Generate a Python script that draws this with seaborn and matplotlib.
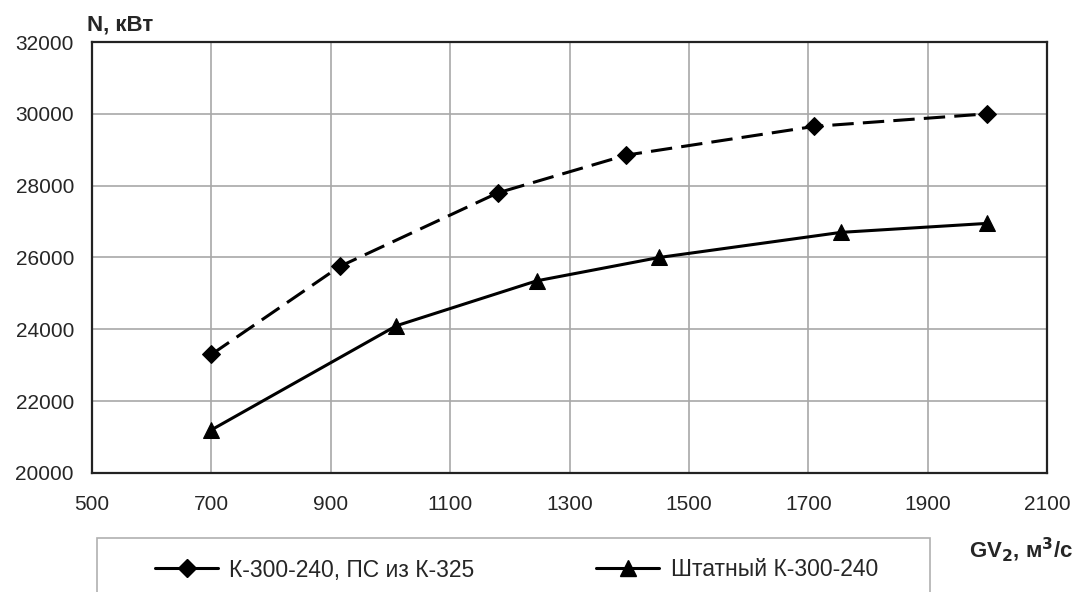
import numpy as np
import pandas as pd
import matplotlib.pyplot as plt
import seaborn as sns
from matplotlib.lines import Line2D
from matplotlib.patches import Rectangle

### Data

gv_new = [700, 915, 1180, 1395, 1710, 2000]
n_new = [23300, 25750, 27800, 28850, 29650, 30000]

gv_std = [700, 1010, 1245, 1450, 1755, 2000]
n_std = [21200, 24100, 25350, 26000, 26700, 26950]

label_new = "К-300-240, ПС из К-325"
label_std = "Штатный К-300-240"

x_ticks = [500, 700, 900, 1100, 1300, 1500, 1700, 1900, 2100]
y_ticks = [20000, 22000, 24000, 26000, 28000, 30000, 32000]

### Style

sns.set_style("white")
plt.rcParams['font.family'] = ['Liberation Sans', 'DejaVu Sans']

fig = plt.figure(figsize=(10.77, 5.92), dpi=100)
ax = fig.add_axes([92 / 1077, 1 - 473 / 592, (1047 - 92) / 1077, (473 - 42) / 592])

# dashed series with diamonds
sns.lineplot(x=gv_new, y=n_new, ax=ax, color="black", linewidth=2.2,
             marker="D", markersize=9, markeredgecolor="black",
             dashes=False, linestyle=(0, (7, 3)))
# solid series with triangles
sns.lineplot(x=gv_std, y=n_std, ax=ax, color="black", linewidth=2.2,
             marker="^", markersize=12, markeredgecolor="black")

ax.set_xlim(500, 2100)
ax.set_ylim(20000, 32000)
ax.set_xticks(x_ticks)
ax.set_yticks(y_ticks)
ax.grid(True, color="#a8a8a8", linewidth=1.2)
ax.set_axisbelow(True)
for s in ax.spines.values():
    s.set_color("#222222")
    s.set_linewidth(1.6)
ax.tick_params(axis="both", direction="out", length=5, width=1.2, color="#a8a8a8",
               labelsize=15)
ax.tick_params(axis="x", pad=11)
ax.tick_params(axis="y", pad=8)
ax.set_xlabel("")
ax.set_ylabel("")

# axis titles
fig.text(87 / 1077, 1 - 25 / 592, "N, кВт", fontsize=16, fontweight="bold",
         ha="left", va="center")
fig.text(1073 / 1077, 1 - 550 / 592, "GV$_\\mathbf{2}$, м$^\\mathbf{3}$/с", fontsize=16,
         fontweight="bold", ha="right", va="center")

# legend (box cut by the figure edge, as in the source)
fig.patches.append(Rectangle((97 / 1077, -0.05), (930 - 97) / 1077, 1 - 538 / 592 + 0.05,
                             transform=fig.transFigure, facecolor="white",
                             edgecolor="#b0b0b0", linewidth=1.2))
handles = [
    Line2D([], [], color="black", linewidth=2.2, marker="D", markersize=9),
    Line2D([], [], color="black", linewidth=2.2, marker="^", markersize=12),
]
fig.legend(handles, [label_new, label_std], loc="center left",
           bbox_to_anchor=(155 / 1077, 1 - 570 / 592), ncol=2, frameon=False,
           fontsize=16.5, handlelength=2.75, handletextpad=0.5, columnspacing=5.3,
           borderpad=0, borderaxespad=0)

fig.savefig("out.png", dpi=100, facecolor="white")
